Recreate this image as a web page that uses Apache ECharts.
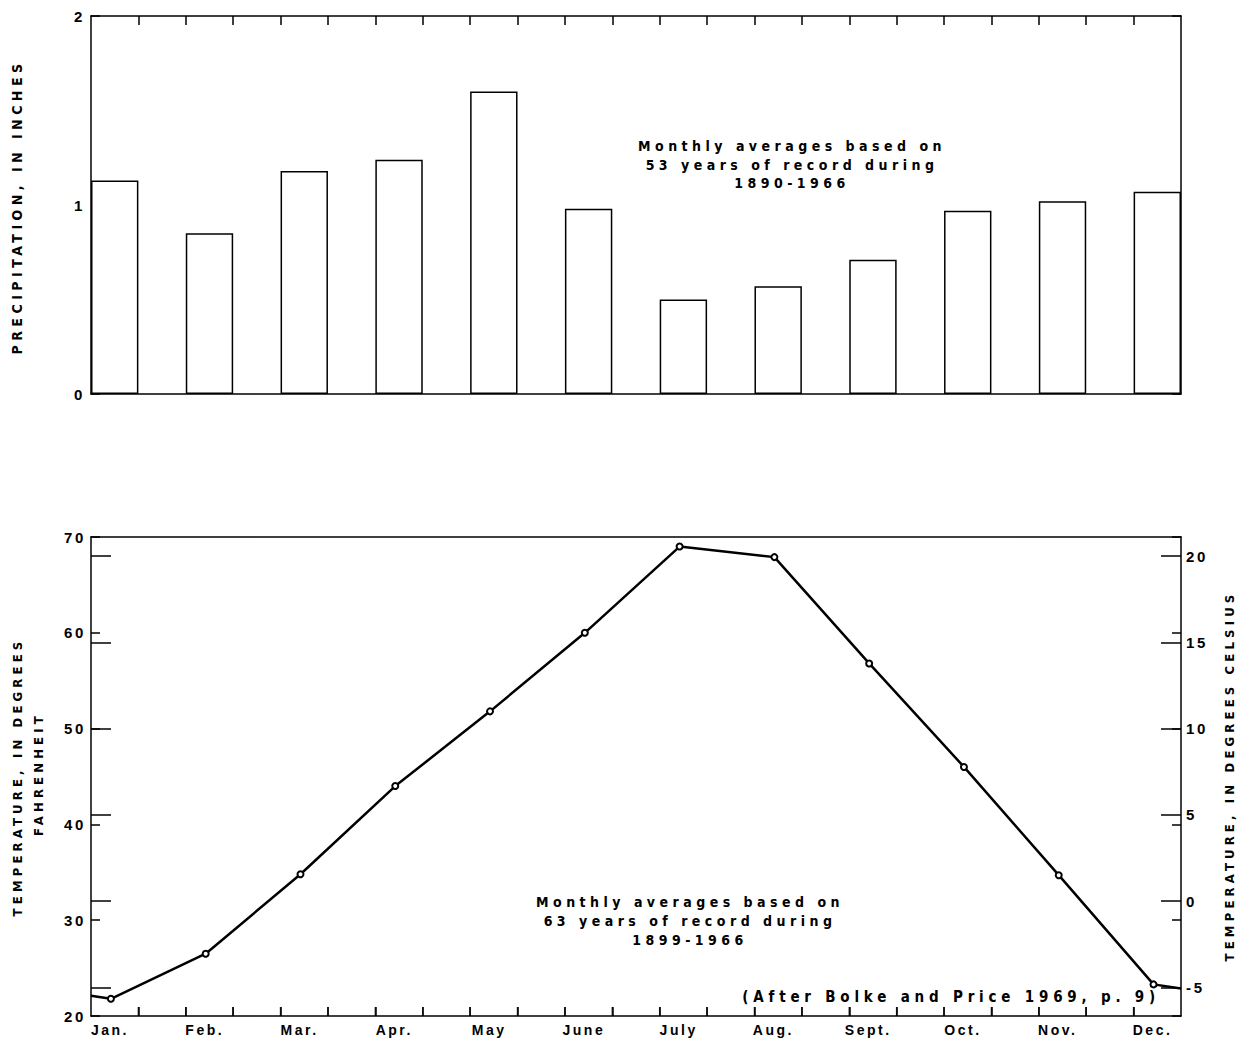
<!DOCTYPE html>
<html>
<head>
<meta charset="utf-8">
<script src="https://cdn.jsdelivr.net/npm/echarts@6/dist/echarts.min.js"></script>
<style>
  html, body { margin: 0; padding: 0; background: #fff; }
  #chart { width: 1242px; height: 1043px; }
  #chart text { letter-spacing: 0.18em; }
  #chart text[style*="DejaVu"], #chart text[font-family*="DejaVu"] { letter-spacing: 0.32em; }
</style>
</head>
<body>
<div id="chart"></div>
<script>
// ---- data ----
const months = ['Jan.', 'Feb.', 'Mar.', 'Apr.', 'May', 'June', 'July', 'Aug.', 'Sept.', 'Oct.', 'Nov.', 'Dec.'];
const precipInches = [1.13, 0.85, 1.18, 1.24, 1.60, 0.98, 0.50, 0.57, 0.71, 0.97, 1.02, 1.07];
const tempF = [21.8, 26.5, 34.8, 44.0, 51.8, 60.0, 69.0, 67.9, 56.8, 46.0, 34.7, 23.3];
const precipTicks = [0, 1, 2];
const tempFTicks = [20, 30, 40, 50, 60, 70];
const tempCTicks = [-5, 0, 5, 10, 15, 20];

const precipNote = ['Monthly averages based on', '53 years of record during', '1890-1966'];
const tempNote = ['Monthly averages based on', '63 years of record during', '1899-1966'];
const sourceNote = '(After Bolke and Price 1969, p. 9)';
const precipTitle = 'PRECIPITATION, IN INCHES';
const tempFTitle = ['TEMPERATURE, IN DEGREES', 'FAHRENHEIT'];
const tempCTitle = 'TEMPERATURE, IN DEGREES CELSIUS';

// ---- layout ----
const FONT_AXIS = '"Liberation Sans Narrow", sans-serif';
const FONT_TEXT = '"Liberation Sans Narrow", "DejaVu Sans Condensed", sans-serif';
const G0 = { left: 91, top: 16, width: 1090, height: 378 };
const G1 = { left: 91, top: 537, width: 1090, height: 479 };
const XMAX = 11.5;                        // plot spans 11.5 months
const barOffset = 0.25, barFrac = 0.5;
const pointOffset = 0.21;
const labelOffset = 0.2;
const TICK = 9;
const fToC = f => (f - 32) * 5 / 9;
const fMin = tempFTicks[0], fMax = tempFTicks[tempFTicks.length - 1];
const halfMonthTicks = [];
for (let k = 1; k < XMAX * 2; k++) halfMonthTicks.push(k / 2);

const black = '#000';
const lineStyle = { color: black, width: 1.5 };
const axisLine = { show: true, onZero: false, lineStyle };
const noLine = { show: false, onZero: false };

function xAxisBase(gridIndex, position) {
  return {
    type: 'value', gridIndex, position, min: 0, max: XMAX, interval: 0.5,
    axisLine,
    axisTick: { show: false },
    axisLabel: { show: false },
    splitLine: { show: false }
  };
}

const xAxes = [
  Object.assign(xAxisBase(0, 'top'), { axisTick: { show: true, inside: true, length: TICK, lineStyle, customValues: halfMonthTicks } }),
  xAxisBase(0, 'bottom'),
  xAxisBase(1, 'top'),
  Object.assign(xAxisBase(1, 'bottom'), {
    axisTick: { show: true, inside: true, length: TICK, lineStyle, customValues: halfMonthTicks },
    axisLabel: {
      show: true,
      customValues: months.map((m, i) => i + labelOffset),
      formatter: v => months[Math.round(v - labelOffset)],
      color: black, fontFamily: FONT_AXIS, fontSize: 14, fontWeight: 'bold', margin: 7
    }
  })
];

const labelStyle = { color: black, fontFamily: FONT_AXIS, fontSize: 15, fontWeight: 'bold' };

const yAxes = [
  { type: 'value', gridIndex: 0, position: 'left', min: precipTicks[0], max: precipTicks[precipTicks.length - 1], interval: 1,
    axisLine, axisTick: { show: true, inside: true, length: TICK, lineStyle },
    axisLabel: Object.assign({ margin: 6 }, labelStyle), splitLine: { show: false } },
  { type: 'value', gridIndex: 0, position: 'right', min: precipTicks[0], max: precipTicks[precipTicks.length - 1], interval: 1,
    axisLine, axisTick: { show: true, inside: true, length: TICK, lineStyle },
    axisLabel: { show: false }, splitLine: { show: false } },
  { type: 'value', gridIndex: 1, position: 'left', min: fMin, max: fMax, interval: 10,
    axisLine, axisTick: { show: true, inside: true, length: TICK, lineStyle },
    axisLabel: Object.assign({ margin: 5 }, labelStyle), splitLine: { show: false } },
  { type: 'value', gridIndex: 1, position: 'left', min: fToC(fMin), max: fToC(fMax),
    axisLine: noLine, axisTick: { show: true, inside: true, length: 20, lineStyle, customValues: tempCTicks },
    axisLabel: { show: false }, splitLine: { show: false } },
  { type: 'value', gridIndex: 1, position: 'right', min: fToC(fMin), max: fToC(fMax),
    axisLine, axisTick: { show: true, inside: true, length: 20, lineStyle, customValues: tempCTicks },
    axisLabel: Object.assign({ margin: 5, customValues: tempCTicks }, labelStyle), splitLine: { show: false } },
  { type: 'value', gridIndex: 1, position: 'right', min: fMin, max: fMax, interval: 10,
    axisLine: noLine, axisTick: { show: true, inside: true, length: TICK, lineStyle },
    axisLabel: { show: false }, splitLine: { show: false } }
];

// line points (with wrap-around segments to the plot edges from Dec/Jan)
const jan = tempF[0], dec = tempF[11];
const leftEdgeVal = dec + (jan - dec) * (0 - (pointOffset - 1));
const rightEdgeVal = dec + (jan - dec) * (XMAX - (11 + pointOffset));
const lineData = [{ value: [0, leftEdgeVal], symbol: 'none' }]
  .concat(tempF.map((v, i) => [i + pointOffset, v]))
  .concat([{ value: [XMAX, rightEdgeVal], symbol: 'none' }]);

const barWidthPx = G0.width / XMAX * barFrac;

function textEl(x, y, text, size, opts) {
  return Object.assign({
    type: 'text', x, y,
    style: Object.assign({ text, fill: black, font: 'bold ' + size + 'px ' + FONT_TEXT, textAlign: 'center', textVerticalAlign: 'middle' }, (opts && opts.style) || {})
  }, opts && opts.rotation !== undefined ? { rotation: opts.rotation } : {});
}

const graphics = [];
precipNote.forEach((t, i) => graphics.push(textEl(792, 146 + i * 18.5, t, 14)));
tempNote.forEach((t, i) => graphics.push(textEl(690, 902 + i * 19, t, 14)));
graphics.push(textEl(1160, 997, sourceNote, 15, { style: { textAlign: 'right' } }));
graphics.push(textEl(17, 207, precipTitle, 14, { rotation: Math.PI / 2 }));
graphics.push(textEl(17, 777, tempFTitle[0], 13, { rotation: Math.PI / 2 }));
graphics.push(textEl(38, 774, tempFTitle[1], 13, { rotation: Math.PI / 2 }));
graphics.push(textEl(1229, 776, tempCTitle, 13, { rotation: Math.PI / 2 }));

const chart = echarts.init(document.getElementById('chart'), null, { renderer: 'svg' });
chart.setOption({
  animation: false,
  backgroundColor: '#fff',
  grid: [G0, G1],
  xAxis: xAxes,
  yAxis: yAxes,
  series: [
    {
      type: 'bar', xAxisIndex: 1, yAxisIndex: 0,
      data: precipInches.map((v, i) => [i + barOffset, v]),
      barWidth: barWidthPx,
      itemStyle: { color: '#fff', borderColor: black, borderWidth: 1.5 }
    },
    {
      type: 'line', xAxisIndex: 3, yAxisIndex: 2,
      data: lineData,
      symbol: 'emptyCircle', symbolSize: 6,
      lineStyle: { color: black, width: 2.5 },
      itemStyle: { color: black, borderColor: black, borderWidth: 1.5 },
      z: 5
    },
    {
      // half-month tick marks standing on the bottom edge of the lower plot
      type: 'scatter', xAxisIndex: 3, yAxisIndex: 2,
      data: halfMonthTicks.map(v => [v, fMin]),
      symbol: 'rect', symbolSize: [1.5, TICK], symbolOffset: [0, -TICK / 2],
      itemStyle: { color: black },
      silent: true, clip: false, z: 6
    }
  ],
  graphic: graphics
});
</script>
</body>
</html>
